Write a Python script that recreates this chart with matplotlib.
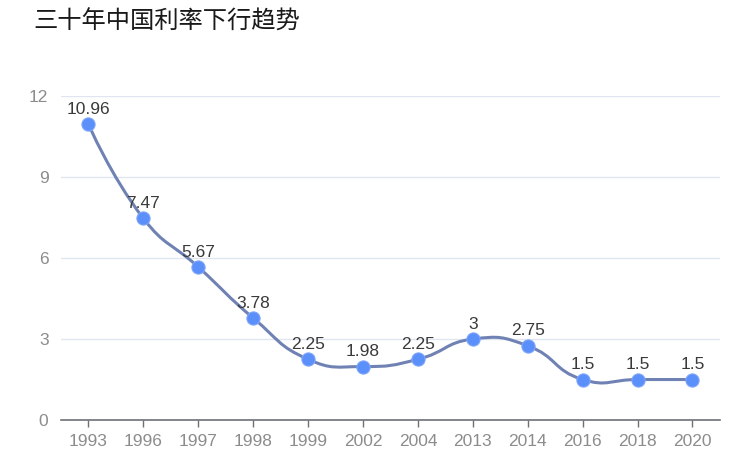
import matplotlib
matplotlib.use("Agg")
import matplotlib.pyplot as plt
from matplotlib.path import Path
from matplotlib.patches import PathPatch

plt.rcParams['font.family'] = ['Liberation Sans', 'Noto Sans CJK SC', 'DejaVu Sans']

# data
years = ['1993', '1996', '1997', '1998', '1999', '2002', '2004',
         '2013', '2014', '2016', '2018', '2020']
rates = [10.96, 7.47, 5.67, 3.78, 2.25, 1.98, 2.25, 3, 2.75, 1.5, 1.5, 1.5]
rate_labels = ['10.96', '7.47', '5.67', '3.78', '2.25', '1.98', '2.25',
               '3', '2.75', '1.5', '1.5', '1.5']
y_ticks = [0, 3, 6, 9, 12]

line_color = '#6f82b3'
dot_color = '#5b8ff9'

fig = plt.figure(figsize=(7.53, 4.53), dpi=100)
ax = fig.add_axes([0.081, 0.0728, 0.875, 0.715])

xs = list(range(len(years)))
ax.set_xlim(-0.5, len(years) - 0.5)
ax.set_ylim(0, 12)

# smooth curve like echarts (smooth=0.5), ratio computed in pixel space
sx, sy = 54.9, 27.0
smooth = 0.5
verts = [(xs[0], rates[0])]
codes = [Path.MOVETO]
cp0 = (xs[0], rates[0])
for i in range(1, len(xs)):
    x, y = xs[i], rates[i]
    px, py = xs[i - 1], rates[i - 1]
    if i < len(xs) - 1:
        nx, ny = xs[i + 1], rates[i + 1]
        vx, vy = nx - px, ny - py
        l0 = ((x - px) ** 2 * sx ** 2 + (y - py) ** 2 * sy ** 2) ** 0.5
        l1 = ((nx - x) ** 2 * sx ** 2 + (ny - y) ** 2 * sy ** 2) ** 0.5
        r = l1 / (l0 + l1)
        next_cp0 = (x + vx * smooth * r, y + vy * smooth * r)
        cp1 = (x - vx * smooth * (1 - r), y - vy * smooth * (1 - r))
    else:
        next_cp0 = (x, y)
        cp1 = (x, y)
    verts += [cp0, cp1, (x, y)]
    codes += [Path.CURVE4] * 3
    cp0 = next_cp0

ax.add_patch(PathPatch(Path(verts, codes), facecolor='none',
                       edgecolor=line_color, linewidth=2.2, zorder=3))

ax.plot(xs, rates, linestyle='none', marker='o', markersize=9.5,
        markerfacecolor=dot_color, markeredgecolor='#7ea6fa',
        markeredgewidth=0.8, zorder=4)

for x, y, t in zip(xs, rates, rate_labels):
    ax.annotate(t, (x, y), xytext=(0, 7.5), textcoords='offset points',
                ha='center', va='baseline', fontsize=12.5, color='#3a3a3a',
                zorder=5)

# grid and axes
ax.set_yticks(y_ticks)
ax.set_yticklabels([str(v) for v in y_ticks])
ax.grid(axis='y', color='#e0e6f1', linewidth=1)
ax.set_axisbelow(True)
for s in ['top', 'right', 'left']:
    ax.spines[s].set_visible(False)
ax.spines['bottom'].set_color('#6e7079')
ax.spines['bottom'].set_linewidth(1.2)

ax.set_xticks(xs)
ax.set_xticklabels(years)
ax.tick_params(axis='x', colors='#6e7079', length=5, width=1, pad=5,
               labelsize=12.5, labelcolor='#8c8c8c')
ax.tick_params(axis='y', length=0, pad=9, labelsize=12.5, labelcolor='#8c8c8c')

fig.text(0.044, 0.952, '三十年中国利率下行趋势', fontsize=17.5, color='#1a1a1a',
         ha='left', va='center', family=['Noto Sans CJK SC', 'DejaVu Sans'])

fig.savefig('out.png', dpi=100)
